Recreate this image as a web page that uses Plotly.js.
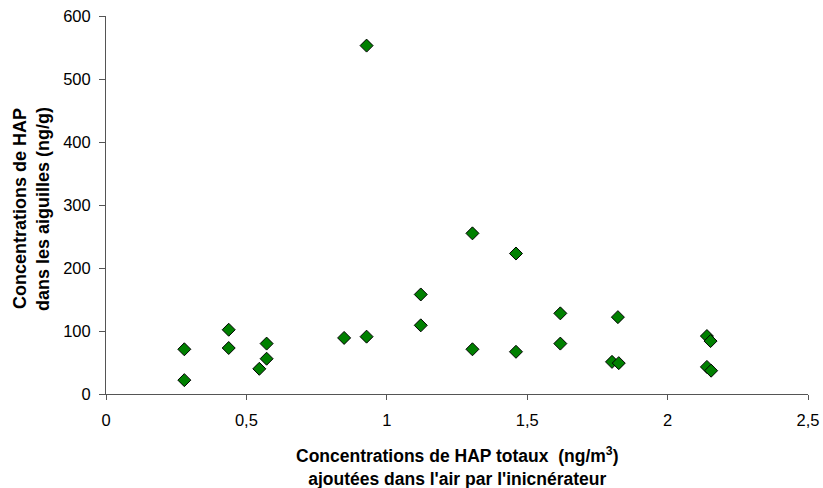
<!DOCTYPE html>
<html>
<head>
<meta charset="utf-8">
<script src="https://cdn.plot.ly/plotly-3.0.1.min.js"></script>
<style>html,body{margin:0;padding:0;background:#fff}#chart{width:823px;height:488px}</style>
</head>
<body>
<div id="chart"></div>
<script>
// Concentrations de HAP totaux ajoutées dans l'air (ng/m3)
const hapAir = [0.279, 0.279, 0.437, 0.437, 0.572, 0.572, 0.546, 0.848, 0.928, 0.928,
                1.121, 1.121, 1.305, 1.305, 1.460, 1.460, 1.618, 1.618, 1.823, 1.802,
                1.826, 2.140, 2.153, 2.140, 2.155];
// Concentrations de HAP dans les aiguilles (ng/g)
const hapAiguilles = [71, 22, 102, 73, 80, 56, 40, 89, 91, 553,
                      158, 109, 255, 71, 223, 67, 128, 80, 122, 51,
                      49, 92, 84, 43, 37];
const xTickVals = [0, 0.5, 1, 1.5, 2, 2.5];
const xTickText = ["0", "0,5", "1", "1,5", "2", "2,5"];
const yTickVals = [0, 100, 200, 300, 400, 500, 600];
const xTitleLines = ["Concentrations de HAP totaux  (ng/m<sup>3</sup>)", "ajoutées dans l'air par l'inicnérateur"];
const yTitleLines = ["Concentrations de HAP", "dans les aiguilles (ng/g)"];

const fam = 'Liberation Sans, Arial, sans-serif';
const trace = {
  x: hapAir, y: hapAiguilles, type: 'scatter', mode: 'markers',
  marker: {symbol: 'diamond', size: 10, color: '#008000', line: {color: '#000', width: 1}},
  showlegend: false
};
const titleFont = {family: fam, size: 18, color: '#000', weight: 'bold'};
const annotations = [
  {text: '<b>' + xTitleLines[0] + '</b><br><b>' + xTitleLines[1] + '</b>', xref: 'paper', yref: 'paper', x: 0.5, y: 0,
   xanchor: 'center', yanchor: 'middle', yshift: -72, showarrow: false,
   font: {family: fam, size: 17.5, color: '#000', weight: 'bold'}},
  {text: '<b>' + yTitleLines[0] + '</b>', xref: 'paper', yref: 'paper', x: 0, y: 0.5,
   xanchor: 'center', yanchor: 'middle', xshift: -86, yshift: -4, textangle: -90, showarrow: false, font: titleFont},
  {text: '<b>' + yTitleLines[1] + '</b>', xref: 'paper', yref: 'paper', x: 0, y: 0.5,
   xanchor: 'center', yanchor: 'middle', xshift: -63, yshift: -4, textangle: -90, showarrow: false, font: titleFont}
];
const layout = {
  width: 823, height: 488,
  margin: {l: 106, r: 15, t: 16, b: 94},
  paper_bgcolor: '#fff', plot_bgcolor: '#fff',
  font: {family: fam, size: 16.5, color: '#000'},
  annotations: annotations,
  xaxis: {
    range: [0, 2.5], tickvals: xTickVals, ticktext: xTickText,
    showgrid: false, zeroline: false, showline: true, linecolor: '#555', linewidth: 1,
    ticks: 'outside', ticklen: 5, tickcolor: '#555', ticklabelstandoff: 6,
    tickfont: {family: fam, size: 16.5, color: '#000'}
  },
  yaxis: {
    range: [0, 600], tickvals: yTickVals,
    showgrid: false, zeroline: false, showline: true, linecolor: '#555', linewidth: 1,
    ticks: 'outside', ticklen: 6, tickcolor: '#555', ticklabelstandoff: 5,
    tickfont: {family: fam, size: 16.5, color: '#000'}
  }
};
Plotly.newPlot('chart', [trace], layout, {displayModeBar: false, staticPlot: true});
</script>
</body>
</html>
